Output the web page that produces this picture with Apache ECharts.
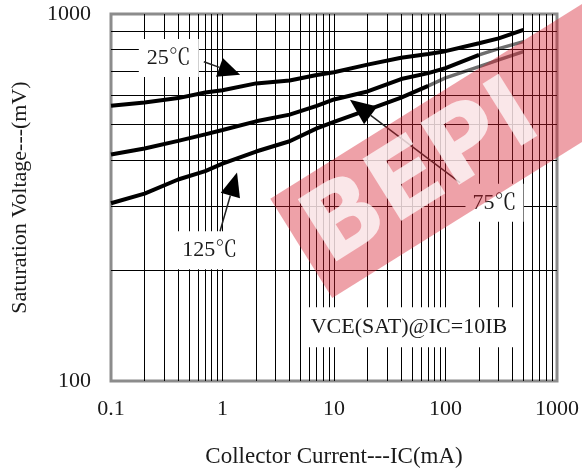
<!DOCTYPE html>
<html><head><meta charset="utf-8">
<script src="https://cdn.jsdelivr.net/npm/echarts@6/dist/echarts.min.js"></script>
<style>html,body{margin:0;padding:0;background:#fff}#c{width:582px;height:473px}</style>
</head><body><div id="c"></div>
<script>
// ---- data ----
const currentIC = [0.1, 0.2, 0.4, 0.7, 1, 2, 4, 7, 10, 20, 40, 70, 100, 200, 300, 500];
const vce25  = [562, 574, 590, 611, 620, 647, 659, 682, 694, 728, 760, 778, 792, 832, 858, 905];
const vce75  = [414, 430, 451, 470, 483, 510, 532, 562, 585, 615, 665, 690, 712, 774, 805, 841];
const vce125 = [305, 324, 354, 373, 391, 422, 450, 488, 508, 548, 592, 637, 670, 719, 750, 790];
const grayFrom75 = 13;   // index where the 75°C curve turns gray
const grayFrom125 = 11;  // index where the 125°C curve turns gray
const xTickLabels = ['0.1', '1', '10', '100', '1000'];
const yTickLabels = ['100', '1000'];
const xGridValues = [0.2,0.3,0.4,0.5,0.6,0.7,0.8,0.9,1,2,3,4,5,6,7,8,9,10,20,30,40,50,60,70,80,90,100,200,300,400,500,600,700,800,900];
const yGridValues = [200,300,400,500,600,700,800,900];
const labelTexts = {t25: '25℃', t75: '75℃', t125: '125℃', cond: 'VCE(SAT)@IC=10IB'};

const SERIF = "'Liberation Serif','Times New Roman','Noto Serif CJK SC',serif";
const pair = (xs, ys, a, b) => xs.slice(a, b).map((x, i) => [x, ys[a + i]]);

const chart = echarts.init(document.getElementById('c'), null, {renderer: 'canvas'});
const n = currentIC.length;
const lineS = (data, color, w) => ({
  type: 'line', data, showSymbol: false, symbol: 'none', smooth: false,
  lineStyle: {color, width: w}, z: 3, animation: false, silent: true
});
chart.setOption({
  animation: false,
  grid: {left: 111, right: 25, top: 14, bottom: 90, show: true, borderColor: '#8c8c8c', borderWidth: 3, backgroundColor: 'transparent'},
  xAxis: {
    type: 'log', logBase: 10, min: 0.1, max: 1000,
    axisLine: {show: false}, axisTick: {show: false}, splitLine: {show: false},
    axisLabel: {
      color: '#1a1a1a', fontFamily: SERIF, fontSize: 22, margin: 17,
      formatter: v => xTickLabels[Math.round(Math.log10(v)) + 1]
    },
    name: 'Collector Current---IC(mA)', nameLocation: 'middle', nameGap: 64,
    nameTextStyle: {color: '#1a1a1a', fontFamily: SERIF, fontSize: 23}
  },
  yAxis: {
    type: 'log', logBase: 10, min: 100, max: 1000,
    axisLine: {show: false}, axisTick: {show: false}, splitLine: {show: false},
    axisLabel: {
      color: '#1a1a1a', fontFamily: SERIF, fontSize: 22, margin: 20,
      formatter: v => yTickLabels[Math.round(Math.log10(v)) - 2]
    },
    name: 'Saturation Voltage---(mV)', nameLocation: 'middle', nameGap: 80,
    nameTextStyle: {color: '#1a1a1a', fontFamily: SERIF, fontSize: 22}
  },
  series: [
    {
      type: 'line', data: [], silent: true, z: 1,
      markLine: {
        silent: true, symbol: ['none', 'none'], label: {show: false}, animation: false,
        lineStyle: {color: '#000', width: 1, type: 'solid'},
        emphasis: {disabled: true},
        data: xGridValues.map(v => ({xAxis: v})).concat(yGridValues.map(v => ({yAxis: v})))
      }
    },
    lineS(pair(currentIC, vce25, 0, n), '#000', 4),
    lineS(pair(currentIC, vce75, 0, grayFrom75 + 1), '#000', 4),
    lineS(pair(currentIC, vce75, grayFrom75, n), '#6e6e6e', 3.5),
    lineS(pair(currentIC, vce125, 0, grayFrom125 + 1), '#000', 4),
    lineS(pair(currentIC, vce125, grayFrom125, n), '#6e6e6e', 3.5)
  ]
});

// ---- annotations (positioned in data coordinates) ----
const P = (x, y) => chart.convertToPixel({gridIndex: 0}, [x, y]);
function label(pos, text, pad) {
  return {type: 'text', x: pos[0], y: pos[1], z: 50, silent: true,
    style: {text, font: '22px ' + SERIF, fill: '#1a1a1a', align: 'center', verticalAlign: 'middle',
      backgroundColor: '#fff', padding: pad}};
}
function arrow(tail, tip, hl, hw) {
  const dx = tip[0] - tail[0], dy = tip[1] - tail[1], L = Math.hypot(dx, dy);
  const ux = dx / L, uy = dy / L, px = -uy, py = ux;
  const bx = tip[0] - ux * hl, by = tip[1] - uy * hl;
  return [
    {type: 'line', z: 51, silent: true, shape: {x1: tail[0], y1: tail[1], x2: bx, y2: by}, style: {stroke: '#222', lineWidth: 1.5}},
    {type: 'polygon', z: 51, silent: true, shape: {points: [tip, [bx + px * hw / 2, by + py * hw / 2], [bx - px * hw / 2, by - py * hw / 2]]}, style: {fill: '#000'}}
  ];
}
const g = [];
g.push(label(P(0.33, 759), labelTexts.t25, [9, 8, 7, 8]));
g.push(label(P(0.77, 227), labelTexts.t125, [9, 7, 7, 7]));
g.push(label(P(275, 306), labelTexts.t75, [9, 7, 7, 7]));
g.push(label(P(47, 140), labelTexts.cond, [10, 7, 8, 7]));
g.push(...arrow(P(0.68, 741), P(1.44, 683), 22, 20));
g.push(...arrow(P(0.95, 256), P(1.35, 370), 24, 20));
g.push(...arrow(P(135, 347), P(13.9, 584), 26, 22));
// watermark band (decoration)
g.push({type: 'group', x: 301, y: 248, rotation: 32 * Math.PI / 180, z: 100, silent: true, children: [
  {type: 'rect', z: 100, shape: {x: 0, y: -58, width: 440, height: 117}, style: {fill: 'rgba(214,32,48,0.42)'}},
  {type: 'text', z: 101, style: {text: 'BEPI', x: 14, y: 4, font: 'bold 100px "DejaVu Sans"', fill: 'rgba(255,255,255,0.75)', verticalAlign: 'middle'}}
]});
chart.setOption({graphic: g});
</script></body></html>
